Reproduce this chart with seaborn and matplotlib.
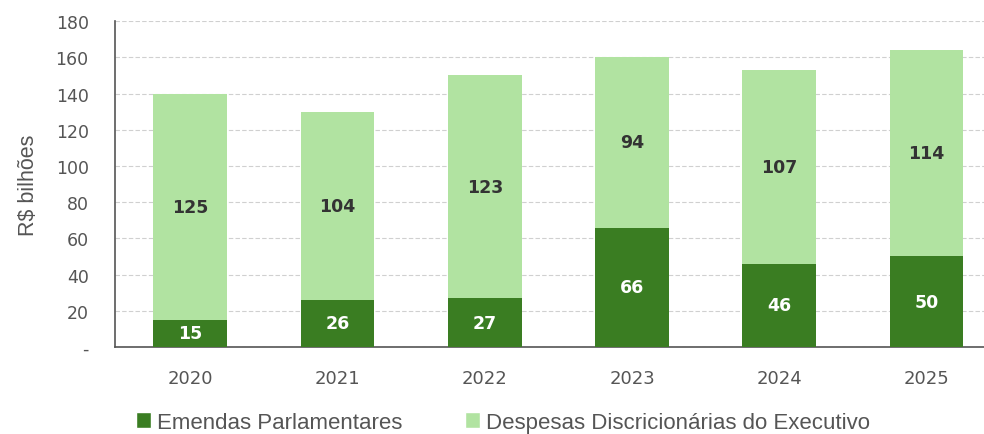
import matplotlib
matplotlib.use("Agg")
import matplotlib.pyplot as plt
import seaborn as sns
import pandas as pd
import numpy as np
from matplotlib.patches import Patch

years = ["2020", "2021", "2022", "2023", "2024", "2025"]
emendas = [15, 26, 27, 66, 46, 50]
discricionarias = [125, 104, 123, 94, 107, 114]
yticks = [0, 20, 40, 60, 80, 100, 120, 140, 160, 180]
ytick_labels = ["-", "20", "40", "60", "80", "100", "120", "140", "160", "180"]

dark = "#3a7d22"
light = "#b1e3a1"

sns.set_theme(style="white")
plt.rcParams["font.family"] = ["DejaVu Sans"]

totals = [e + d for e, d in zip(emendas, discricionarias)]
df = pd.DataFrame({"ano": years, "emendas": emendas, "disc": discricionarias, "total": totals})

fig = plt.figure(figsize=(9.84, 4.35), dpi=100)
ax = fig.add_axes([0.117, 0.2, 0.883, 0.749])

sns.barplot(data=df, x="ano", y="total", color=light, width=0.5, saturation=1,
            linewidth=0, edgecolor="none", ax=ax, zorder=2)
sns.barplot(data=df, x="ano", y="emendas", color=dark, width=0.5, saturation=1,
            linewidth=0, edgecolor="none", ax=ax, zorder=3)

for i, (e, d) in enumerate(zip(emendas, discricionarias)):
    ax.text(i, e / 2, str(e), ha="center", va="center", color="white",
            fontsize=12.5, fontweight="bold", zorder=4)
    ax.text(i, e + d / 2, str(d), ha="center", va="center", color="#333333",
            fontsize=12.5, fontweight="bold", zorder=4)

ax.set_ylim(0, 180)
ax.set_xlim(-0.51, 5.39)
ax.set_yticks(yticks)
ax.set_yticklabels(ytick_labels)
ax.yaxis.grid(True, linestyle=(0, (4, 2)), color="#d0d0d0", linewidth=0.8, zorder=0)
ax.set_axisbelow(True)
ax.set_xlabel("")
ax.set_ylabel("R$ bilhões", fontsize=15.5, color="#555555", family="Liberation Sans")
ax.yaxis.set_label_coords(-0.088, 0.5)
ax.tick_params(axis="y", labelsize=12.5, colors="#555555", length=0, pad=19)
ax.tick_params(axis="x", labelsize=13, colors="#555555", length=0, pad=16)
for s in ["top", "right"]:
    ax.spines[s].set_visible(False)
ax.spines["left"].set_color("#555555")
ax.spines["bottom"].set_color("#555555")
ax.spines["left"].set_linewidth(1.2)
ax.spines["bottom"].set_linewidth(1.2)

handles = [Patch(facecolor=dark, label="Emendas Parlamentares"),
           Patch(facecolor=light, label="Despesas Discricionárias do Executivo")]
fig.legend(handles=handles, loc="center left", bbox_to_anchor=(0.138, 0.027), ncol=2,
           frameon=False, prop={"family": "Liberation Sans", "size": 16},
           handlelength=0.7, handleheight=0.7, handletextpad=0.25,
           columnspacing=2.8, labelcolor="#555555", borderaxespad=0, borderpad=0)

fig.savefig("out.png", dpi=100)
